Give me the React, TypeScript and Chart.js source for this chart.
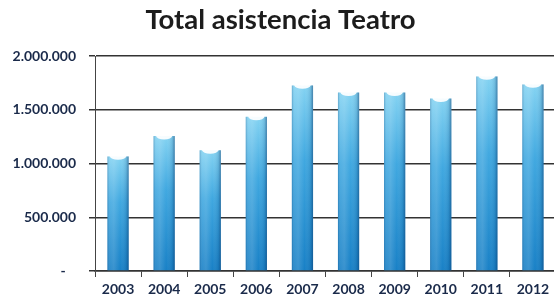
import React, { useEffect, useRef } from "react";
import { Chart, registerables } from "chart.js";

Chart.register(...registerables);

const years = ["2003", "2004", "2005", "2006", "2007", "2008", "2009", "2010", "2011", "2012"];
const attendance = [1066000, 1255000, 1123000, 1434000, 1726000, 1660000, 1660000, 1604000, 1810000, 1736000];
const yTickValues = [0, 500000, 1000000, 1500000, 2000000];
const titleText = "Total asistencia Teatro";

const fmt = (v: number) => {
  if (v === 0) return "-   ";
  return Math.round(v).toString().replace(/\B(?=(\d{3})+(?!\d))/g, ".");
};

const barShade = {
  id: "barShade",
  afterDatasetsDraw(chart: any) {
    const ctx = chart.ctx;
    const meta = chart.getDatasetMeta(0);
    meta.data.forEach((el: any) => {
      const { x, y, base, width } = el.getProps(["x", "y", "base", "width"], true);
      const l = x - width / 2;
      const r = x + width / 2;
      ctx.save();
      const g = ctx.createLinearGradient(l, 0, r, 0);
      g.addColorStop(0, "rgba(20,70,120,0.30)");
      g.addColorStop(0.12, "rgba(255,255,255,0.10)");
      g.addColorStop(0.3, "rgba(255,255,255,0.15)");
      g.addColorStop(0.6, "rgba(255,255,255,0.0)");
      g.addColorStop(0.88, "rgba(10,60,110,0.15)");
      g.addColorStop(1, "rgba(10,50,100,0.5)");
      ctx.fillStyle = g;
      ctx.fillRect(l, y, width, base - y);
      ctx.beginPath();
      ctx.ellipse(x, y, width * 0.38, 3.4, 0, 0, Math.PI * 2);
      ctx.fillStyle = "rgba(255,255,255,0.93)";
      ctx.fill();
      ctx.restore();
    });
  },
};

export default function App() {
  const ref = useRef<HTMLCanvasElement | null>(null);
  useEffect(() => {
    document.body.style.margin = "0";
    document.body.style.overflow = "hidden";
    const canvas = ref.current!;
    const chart = new Chart(canvas, {
      type: "bar",
      data: {
        labels: years,
        datasets: [
          {
            data: attendance,
            borderWidth: 0,
            barPercentage: 0.46,
            categoryPercentage: 1,
            backgroundColor: (c: any) => {
              const ch = c.chart;
              const ys = ch.scales && ch.scales.y;
              const area = ch.chartArea;
              if (!ys || !area) return "#3aa0dc";
              const v = attendance[c.dataIndex];
              const top = ys.getPixelForValue(v);
              const g = ch.ctx.createLinearGradient(0, top, 0, area.bottom);
              g.addColorStop(0, "#84d3f2");
              g.addColorStop(0.4, "#40a8e0");
              g.addColorStop(1, "#1880c6");
              return g;
            },
          },
        ],
      },
      options: {
        responsive: false,
        animation: false,
        devicePixelRatio: 1,
        layout: { padding: { left: 5, right: 10, top: 0, bottom: 0 } },
        plugins: {
          legend: { display: false },
          tooltip: { enabled: false },
          title: {
            display: true,
            text: titleText,
            color: "#1c1c1c",
            font: { family: "Lato", size: 27.5, weight: "bold" },
            padding: { top: 4, bottom: 19 },
          },
        },
        scales: {
          x: {
            offset: true,
            grid: {
              display: true,
              drawOnChartArea: false,
              drawTicks: true,
              tickLength: 6,
              offset: true,
              color: "#444",
              lineWidth: 1,
            },
            border: { display: true, color: "#333", width: 1.5 },
            ticks: {
              color: "#1a2a4a",
              padding: 4,
              font: { family: "Lato", size: 14, weight: "bold" },
            },
            afterFit: (s: any) => {
              s.height = 29;
            },
          },
          y: {
            min: 0,
            max: 2000000,
            afterBuildTicks: (s: any) => {
              s.ticks = yTickValues.map((v) => ({ value: v }));
            },
            grid: {
              color: "#333",
              lineWidth: 1.5,
              tickLength: 6,
              drawTicks: true,
            },
            border: { display: true, color: "#444", width: 1 },
            ticks: {
              color: "#1a2a4a",
              padding: 13,
              font: { family: "Lato", size: 14, weight: "bold" },
              callback: (v: any) => fmt(Number(v)),
            },
            afterFit: (s: any) => {
              s.width = 90;
            },
          },
        },
      },
      plugins: [barShade],
    });
    return () => chart.destroy();
  }, []);
  return (
    <div style={{ width: 554, height: 300, overflow: "hidden", background: "#fff" }}>
      <canvas ref={ref} width={566} height={300} style={{ display: "block" }} />
    </div>
  );
}
